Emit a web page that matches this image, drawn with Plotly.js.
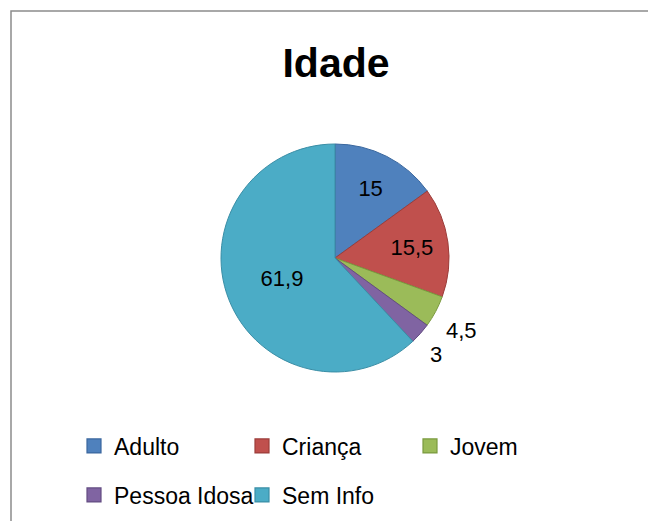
<!DOCTYPE html>
<html>
<head>
<meta charset="utf-8">
<script src="https://cdn.plot.ly/plotly-3.0.1.min.js"></script>
<style>html,body{margin:0;padding:0;background:#fff;}#chart{width:648px;height:521px;}</style>
</head>
<body>
<div id="chart"></div>
<script>
var categories = ['Adulto', 'Criança', 'Jovem', 'Pessoa Idosa', 'Sem Info'];
var values = [15, 15.5, 4.5, 3, 61.9];
var valueLabels = ['15', '15,5', '4,5', '3', '61,9'];
var labelOutside = [false, false, true, true, false];
var fillColors = ['#4F81BD', '#C0504D', '#9BBB59', '#8064A2', '#4BACC6'];
var edgeColors = ['#3A679E', '#9C3D3A', '#7A9A3E', '#634C82', '#3A8EA6'];
var legendRow = ['legend', 'legend', 'legend', 'legend2', 'legend2'];

var FONT = 'Liberation Sans, Arial, sans-serif';
var W = 648, H = 521;
var PIE_CX = 335, PIE_CY = 258, PIE_R = 114, LABEL_R = 124;

var pie = {
  type: 'pie',
  labels: categories,
  values: values,
  text: valueLabels,
  textinfo: 'text',
  texttemplate: '%{text}',
  textposition: labelOutside.map(function (o) { return o ? 'none' : 'inside'; }),
  insidetextorientation: 'horizontal',
  sort: false,
  direction: 'clockwise',
  rotation: 0,
  showlegend: false,
  hoverinfo: 'label+value',
  marker: {colors: fillColors, line: {color: edgeColors, width: 1}},
  textfont: {family: FONT, size: 22, color: '#000'},
  insidetextfont: {family: FONT, size: 22, color: '#000'},
  domain: {x: [(PIE_CX - 200) / W, (PIE_CX + 200) / W], y: [(H - PIE_CY - PIE_R) / H, (H - PIE_CY + PIE_R) / H]}
};

// outside labels placed at the slice mid-angle, just beyond the rim
var total = values.reduce(function (a, b) { return a + b; }, 0);
var annotations = [];
var cum = 0;
values.forEach(function (v, i) {
  var mid = (cum + v / 2) / total * 2 * Math.PI;
  cum += v;
  if (!labelOutside[i]) return;
  var ux = Math.sin(mid), uy = Math.cos(mid);
  annotations.push({
    xref: 'paper', yref: 'paper',
    x: (PIE_CX + LABEL_R * ux) / W, y: (H - PIE_CY + LABEL_R * uy) / H,
    xanchor: ux >= 0 ? 'left' : 'right', yanchor: uy >= 0 ? 'bottom' : 'top',
    text: valueLabels[i], showarrow: false,
    font: {family: FONT, size: 22, color: '#000'}
  });
});

var traces = [pie];
categories.forEach(function (c, i) {
  traces.push({
    type: 'scatter', mode: 'markers', x: [null], y: [null], name: c,
    legend: legendRow[i], showlegend: true, hoverinfo: 'skip',
    marker: {symbol: 'square', size: 14, color: fillColors[i], line: {color: edgeColors[i], width: 1.2}}
  });
});

var legendCommon = {
  orientation: 'h', xref: 'paper', yref: 'paper',
  xanchor: 'left', yanchor: 'middle',
  entrywidth: 123, entrywidthmode: 'pixels',
  bgcolor: 'rgba(0,0,0,0)', borderwidth: 0,
  font: {family: FONT, size: 23, color: '#000'},
  itemclick: false, itemdoubleclick: false
};

var layout = {
  width: W, height: H,
  margin: {l: 0, r: 0, t: 0, b: 0, autoexpand: false},
  paper_bgcolor: '#fff', plot_bgcolor: '#fff',
  title: {text: '<b>Idade</b>', font: {family: FONT, size: 41, color: '#000'},
          x: 336 / W, xanchor: 'center', xref: 'container', y: 1 - 63 / H, yref: 'container', yanchor: 'middle'},
  xaxis: {visible: false}, yaxis: {visible: false},
  legend: Object.assign({}, legendCommon, {x: 74 / W, y: 1 - 446 / H}),
  legend2: Object.assign({}, legendCommon, {x: 74 / W, y: 1 - 495 / H}),
  annotations: annotations,
  shapes: [{type: 'rect', xref: 'paper', yref: 'paper', x0: 11 / W, x1: 1.02, y0: -0.02, y1: 1 - 11 / H,
            line: {color: '#8C8C8C', width: 1.5}, fillcolor: 'rgba(0,0,0,0)', layer: 'above'}],
  showlegend: true
};

Plotly.newPlot('chart', traces, layout, {displayModeBar: false, staticPlot: true});
</script>
</body>
</html>
